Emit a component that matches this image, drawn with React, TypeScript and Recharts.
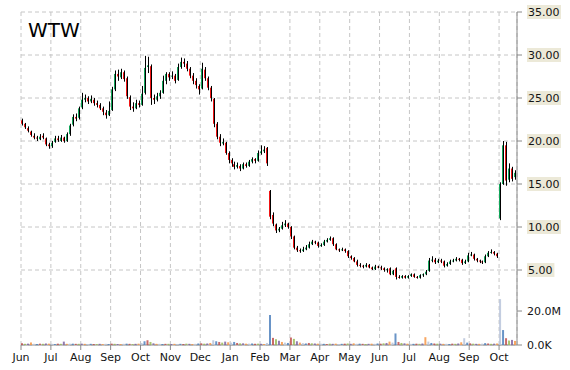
import { Bar, CartesianGrid, Cell, ComposedChart, XAxis, YAxis } from "recharts";

// monthly ticks, ~10 two-day candles per month
const MONTHS = ["Jun", "Jul", "Aug", "Sep", "Oct", "Nov", "Dec", "Jan", "Feb", "Mar", "Apr", "May", "Jun", "Jul", "Aug", "Sep", "Oct"];
const CANDLES_PER_MONTH = 10;

const OPEN = [
  22.4, 22.0, 21.5, 21.1, 20.6, 20.4, 20.2, 20.6, 20.3, 19.6,
  19.4, 19.9, 20.3, 20.0, 20.4, 20.0, 20.8, 21.9, 22.8, 22.7,
  23.9, 24.8, 25.0, 24.6, 24.8, 24.4, 24.2, 23.8, 23.3, 23.0,
  23.6, 26.0, 27.8, 27.4, 28.0, 27.3, 25.1, 24.0, 23.8, 24.4,
  24.2, 25.6, 28.6, 28.7, 25.0, 24.8, 25.2, 25.6, 27.0, 27.8,
  27.5, 27.6, 27.1, 28.6, 29.2, 29.0, 28.4, 27.6, 27.0, 26.4,
  26.1, 28.3, 27.3, 26.2, 24.9, 22.0, 20.5, 19.7, 19.8, 18.6,
  17.8, 17.3, 17.0, 17.1, 16.8, 17.3, 17.1, 17.6, 17.9, 17.7,
  18.6, 18.8, 19.2, 14.2, 11.4, 10.3, 9.6, 9.8, 10.2, 10.4,
  10.0, 8.9, 7.6, 7.3, 7.2, 7.4, 7.6, 8.0, 8.3, 8.2,
  7.8, 7.9, 8.3, 8.5, 8.7, 8.0, 7.4, 7.3, 7.4, 7.2,
  6.6, 6.4, 6.0, 5.6, 5.5, 5.4, 5.6, 5.3, 5.1, 5.4,
  5.3, 5.2, 5.0, 5.2, 4.5, 5.2, 4.2, 4.1, 4.3, 4.1,
  4.3, 4.5, 4.2, 4.1, 4.4, 4.5, 4.9, 6.1, 6.2, 5.9,
  6.1, 6.0, 5.5, 5.7, 6.0, 6.1, 6.3, 6.2, 5.8, 6.0,
  6.7, 6.8, 6.3, 6.1, 6.0, 5.9, 6.6, 7.0, 7.1, 6.9,
  11.0, 15.0, 19.5, 15.5, 16.8, 15.8,
];

const HIGH = [
  22.6, 22.1, 21.7, 21.2, 20.9, 20.6, 20.8, 20.9, 20.4, 19.8,
  20.0, 20.6, 20.6, 20.7, 20.5, 21.0, 22.0, 23.1, 23.2, 24.0,
  25.6, 25.4, 25.2, 25.3, 25.0, 24.7, 24.4, 24.0, 23.6, 24.6,
  26.3, 28.2, 28.3, 28.4, 28.2, 27.5, 25.3, 24.5, 24.8, 24.7,
  26.4, 29.9, 29.8, 28.9, 25.4, 25.6, 25.9, 27.6, 28.0, 28.0,
  28.1, 27.8, 29.0, 29.7, 29.6, 29.3, 28.6, 27.9, 27.3, 26.6,
  29.1, 28.6, 27.5, 26.4, 25.0, 22.2, 20.8, 20.3, 19.9, 18.8,
  18.0, 17.6, 17.5, 17.3, 17.5, 17.5, 17.8, 18.1, 18.0, 18.9,
  19.5, 19.4, 19.3, 14.3, 11.7, 10.4, 10.0, 10.6, 10.8, 10.5,
  10.1, 9.0, 7.8, 7.5, 7.7, 7.9, 8.3, 8.5, 8.4, 8.3,
  8.1, 8.5, 8.7, 8.9, 8.8, 8.1, 7.5, 7.6, 7.5, 7.3,
  6.7, 6.5, 6.2, 5.8, 5.6, 5.8, 5.7, 5.4, 5.6, 5.5,
  5.5, 5.3, 5.2, 5.3, 5.0, 5.3, 4.4, 4.4, 4.4, 4.4,
  4.6, 4.6, 4.3, 4.5, 4.6, 5.0, 6.4, 6.6, 6.4, 6.3,
  6.3, 6.1, 5.9, 6.2, 6.3, 6.5, 6.4, 6.3, 6.2, 7.0,
  7.1, 6.9, 6.4, 6.2, 6.1, 6.8, 7.2, 7.4, 7.2, 7.0,
  15.2, 20.0, 19.9, 17.4, 17.0, 16.6,
];

const LOW = [
  21.8, 21.4, 21.0, 20.5, 20.2, 20.0, 20.1, 20.2, 19.4, 19.1,
  19.2, 19.8, 19.9, 19.9, 19.8, 19.9, 20.6, 21.7, 22.3, 22.5,
  23.7, 24.5, 24.3, 24.4, 24.1, 23.9, 23.6, 23.0, 22.6, 22.9,
  23.5, 25.8, 27.0, 27.2, 26.9, 24.9, 23.6, 23.4, 23.7, 23.9,
  24.1, 25.4, 27.9, 24.2, 24.3, 24.6, 24.9, 25.5, 26.6, 27.0,
  27.2, 26.7, 27.0, 28.4, 28.6, 28.1, 27.3, 26.6, 26.1, 25.4,
  26.0, 27.0, 25.9, 24.6, 21.6, 20.2, 19.4, 19.5, 18.4, 17.4,
  17.0, 16.7, 16.8, 16.5, 16.7, 16.9, 17.0, 17.4, 17.4, 17.6,
  18.4, 18.6, 17.1, 10.9, 10.1, 9.3, 9.4, 9.7, 10.0, 9.8,
  8.6, 7.4, 7.1, 7.0, 7.1, 7.3, 7.5, 7.9, 8.0, 7.6,
  7.7, 7.8, 8.2, 8.4, 7.8, 7.3, 7.1, 7.2, 7.0, 6.4,
  6.2, 5.9, 5.4, 5.3, 5.2, 5.3, 5.2, 5.0, 5.0, 5.2,
  5.0, 4.8, 4.7, 4.4, 4.4, 3.9, 4.0, 4.0, 4.0, 4.0,
  4.2, 4.1, 4.0, 4.0, 4.2, 4.4, 4.8, 5.9, 5.7, 5.8,
  5.8, 5.3, 5.4, 5.6, 5.9, 6.0, 6.0, 5.6, 5.7, 5.9,
  6.6, 6.1, 5.9, 5.8, 5.7, 5.8, 6.5, 6.9, 6.7, 6.4,
  10.8, 14.9, 14.8, 15.2, 15.3, 15.5,
];

const CLOSE = [
  22.0, 21.6, 21.2, 20.7, 20.4, 20.3, 20.5, 20.4, 19.6, 19.4,
  19.8, 20.3, 20.1, 20.4, 20.0, 20.8, 21.8, 22.8, 22.6, 23.8,
  24.8, 25.0, 24.6, 24.9, 24.4, 24.2, 23.8, 23.4, 23.0, 23.5,
  26.0, 27.8, 27.5, 28.0, 27.2, 25.2, 24.0, 23.8, 24.4, 24.2,
  25.5, 28.5, 28.8, 25.0, 24.8, 25.2, 25.6, 27.0, 27.8, 27.4,
  27.6, 27.0, 28.6, 29.2, 29.0, 28.4, 27.6, 27.0, 26.5, 26.0,
  28.4, 27.3, 26.2, 25.0, 22.0, 20.5, 19.8, 19.9, 18.6, 17.8,
  17.4, 17.0, 17.2, 16.8, 17.3, 17.1, 17.6, 17.9, 17.7, 18.6,
  18.8, 19.0, 17.4, 11.2, 10.4, 9.6, 9.8, 10.2, 10.4, 10.0,
  8.9, 7.6, 7.3, 7.2, 7.4, 7.6, 8.0, 8.3, 8.2, 7.8,
  7.9, 8.3, 8.5, 8.7, 8.0, 7.4, 7.3, 7.4, 7.2, 6.6,
  6.4, 6.0, 5.6, 5.5, 5.4, 5.6, 5.3, 5.1, 5.4, 5.3,
  5.2, 5.0, 5.1, 4.5, 4.9, 4.2, 4.1, 4.3, 4.1, 4.3,
  4.5, 4.2, 4.1, 4.4, 4.5, 4.8, 6.1, 6.2, 5.9, 6.1,
  6.0, 5.5, 5.7, 6.0, 6.1, 6.3, 6.2, 5.8, 6.0, 6.7,
  6.8, 6.3, 6.1, 6.0, 5.9, 6.6, 7.0, 7.1, 6.9, 6.6,
  15.0, 19.5, 15.4, 16.8, 15.6, 16.3,
];

// volume in millions of shares
const VOLUME_M = [
  1.0, 0.7, 0.8, 1.5, 0.7, 0.6, 0.8, 0.7, 0.9, 0.8,
  0.7, 0.6, 0.8, 0.7, 2.0, 0.7, 0.8, 0.8, 0.7, 0.7,
  0.8, 0.7, 0.6, 0.7, 0.6, 0.6, 0.7, 0.6, 0.7, 0.6,
  0.8, 0.7, 0.6, 0.6, 0.7, 0.8, 0.7, 0.6, 0.7, 0.8,
  1.2, 2.2, 2.8, 1.8, 1.0, 0.7, 0.7, 0.6, 0.7, 0.7,
  0.6, 0.7, 0.6, 0.7, 0.6, 0.8, 0.7, 0.6, 0.7, 0.9,
  1.0, 0.8, 0.9, 1.2, 2.8, 2.2, 1.8, 1.4, 2.0, 1.6,
  1.4, 1.8, 1.2, 1.0, 1.0, 0.8, 0.8, 0.9, 0.7, 0.8,
  0.7, 0.6, 1.2, 17.6, 4.2, 3.4, 2.5, 1.8, 1.4, 1.2,
  4.4, 3.6, 2.2, 1.4, 1.1, 0.9, 1.2, 1.0, 0.9, 0.8,
  0.8, 0.7, 0.6, 0.8, 0.7, 0.8, 0.6, 0.7, 0.8, 0.9,
  0.7, 1.0, 0.7, 0.8, 0.7, 0.6, 0.7, 0.8, 0.7, 0.9,
  0.8, 1.0, 1.2, 2.0, 1.4, 6.8, 1.8, 1.2, 1.0, 0.8,
  0.7, 0.7, 0.8, 0.7, 0.9, 4.6, 2.0, 1.2, 0.9, 0.8,
  0.8, 0.7, 0.7, 0.6, 0.8, 0.7, 0.9, 1.6, 4.0, 1.4,
  1.0, 0.8, 0.7, 0.7, 0.8, 1.1, 0.9, 0.7, 0.8, 0.9,
  27.0, 8.8, 4.0, 2.6, 3.0, 2.4,
];

const PRICE_TICKS = [5, 10, 15, 20, 25, 30, 35];
const VOLUME_TICKS = [0, 20];

const UP = "#12a55a";
const DOWN = "#f01414";
const VOL_COLORS = ["#c0504d", "#9bbb59", "#8064a2", "#f79646", "#b8c4da", "#4f81bd"];
const AXIS = "#8a8a8a";
const INK = "#141414";
const FONT = "DejaVu Sans, Verdana, sans-serif";

const W = 570;
const H = 370;
const MARGIN = { top: 12, right: 0, bottom: 0, left: 21 };
const AXIS_W = 53;
const X_DOMAIN = [0, CLOSE.length];
const MONTH_TICKS = MONTHS.map((_, i) => i * CANDLES_PER_MONTH);

const data = CLOSE.map((close, i) => ({
  x: i + 0.5,
  open: OPEN[i],
  high: HIGH[i],
  low: LOW[i],
  close,
  range: [LOW[i], HIGH[i]],
  vol: VOLUME_M[i],
}));

function Candle(props: any) {
  const { x, y, width, height } = props;
  const d = props.payload ?? props;
  if (x == null || y == null) return null;
  const top = Math.min(y, y + height);
  const h = Math.abs(height);
  const ppu = h / (d.high - d.low || 1);
  const cx = Math.round(x + width / 2);
  const bodyTop = top + (d.high - Math.max(d.open, d.close)) * ppu;
  const bodyH = Math.max(1, Math.abs(d.open - d.close) * ppu);
  return (
    <g>
      <rect x={cx - 1} y={bodyTop} width={2} height={bodyH} fill={d.close >= d.open ? UP : DOWN} />
      <line x1={cx + 0.5} x2={cx + 0.5} y1={top} y2={top + h} stroke="#000" strokeWidth={1} />
    </g>
  );
}

function PriceTick(props: any) {
  const { x, y, payload } = props;
  const label = Number(payload.value).toFixed(2);
  return (
    <g>
      <rect x={x} y={y - 7} width={label.length * 6.6 + 1} height={14} fill="#ece9d8" />
      <text x={x + 1} y={y} dy="0.35em" fontSize={11} fontFamily={FONT} fill={INK}>
        {label}
      </text>
    </g>
  );
}

export default function App() {
  return (
    <div style={{ position: "absolute", left: 0, top: 0, width: W, height: H, background: "#fff", fontFamily: FONT }}>
      <div style={{ position: "absolute", left: 0, top: 0 }}>
        <ComposedChart width={W} height={H} data={data} margin={MARGIN}>
          <CartesianGrid stroke="#c6c6c6" strokeDasharray="4 3" />
          <XAxis
            dataKey="x"
            type="number"
            domain={X_DOMAIN}
            ticks={MONTH_TICKS}
            interval={0}
            height={25}
            tickFormatter={(v) => MONTHS[Math.round(v / CANDLES_PER_MONTH)]}
            axisLine={{ stroke: AXIS }}
            tickLine={{ stroke: AXIS }}
            tickSize={5}
            tickMargin={3}
            tick={{ fontSize: 11, fill: INK, fontFamily: FONT }}
          />
          <YAxis
            orientation="right"
            width={AXIS_W}
            domain={[-3.72, 35]}
            ticks={PRICE_TICKS}
            allowDataOverflow
            axisLine={{ stroke: AXIS }}
            tickLine={{ stroke: AXIS }}
            tickSize={5}
            tickMargin={5}
            tick={<PriceTick />}
          />
          <Bar dataKey="range" barSize={3} shape={<Candle />} isAnimationActive={false} />
        </ComposedChart>
      </div>
      <div style={{ position: "absolute", left: 0, top: 0 }}>
        <ComposedChart width={W} height={H} data={data} margin={{ ...MARGIN, bottom: 25 }}>
          <XAxis dataKey="x" type="number" domain={X_DOMAIN} hide />
          <YAxis
            orientation="right"
            width={AXIS_W}
            domain={[0, 196]}
            ticks={VOLUME_TICKS}
            allowDataOverflow
            axisLine={false}
            tickLine={{ stroke: AXIS }}
            tickSize={5}
            tickMargin={5}
            tick={{ fontSize: 11, fill: INK, fontFamily: FONT, textAnchor: "start" }}
            tickFormatter={(v) => (v === 0 ? "0.0K" : `${Number(v).toFixed(1)}M`)}
          />
          <Bar dataKey="vol" barSize={2} fillOpacity={0.85} isAnimationActive={false}>
            {data.map((_, i) => (
              <Cell key={i} fill={VOL_COLORS[i % VOL_COLORS.length]} />
            ))}
          </Bar>
        </ComposedChart>
      </div>
      <div style={{ position: "absolute", left: 28, top: 18, fontSize: 20, color: "#000", fontFamily: FONT }}>WTW</div>
    </div>
  );
}
